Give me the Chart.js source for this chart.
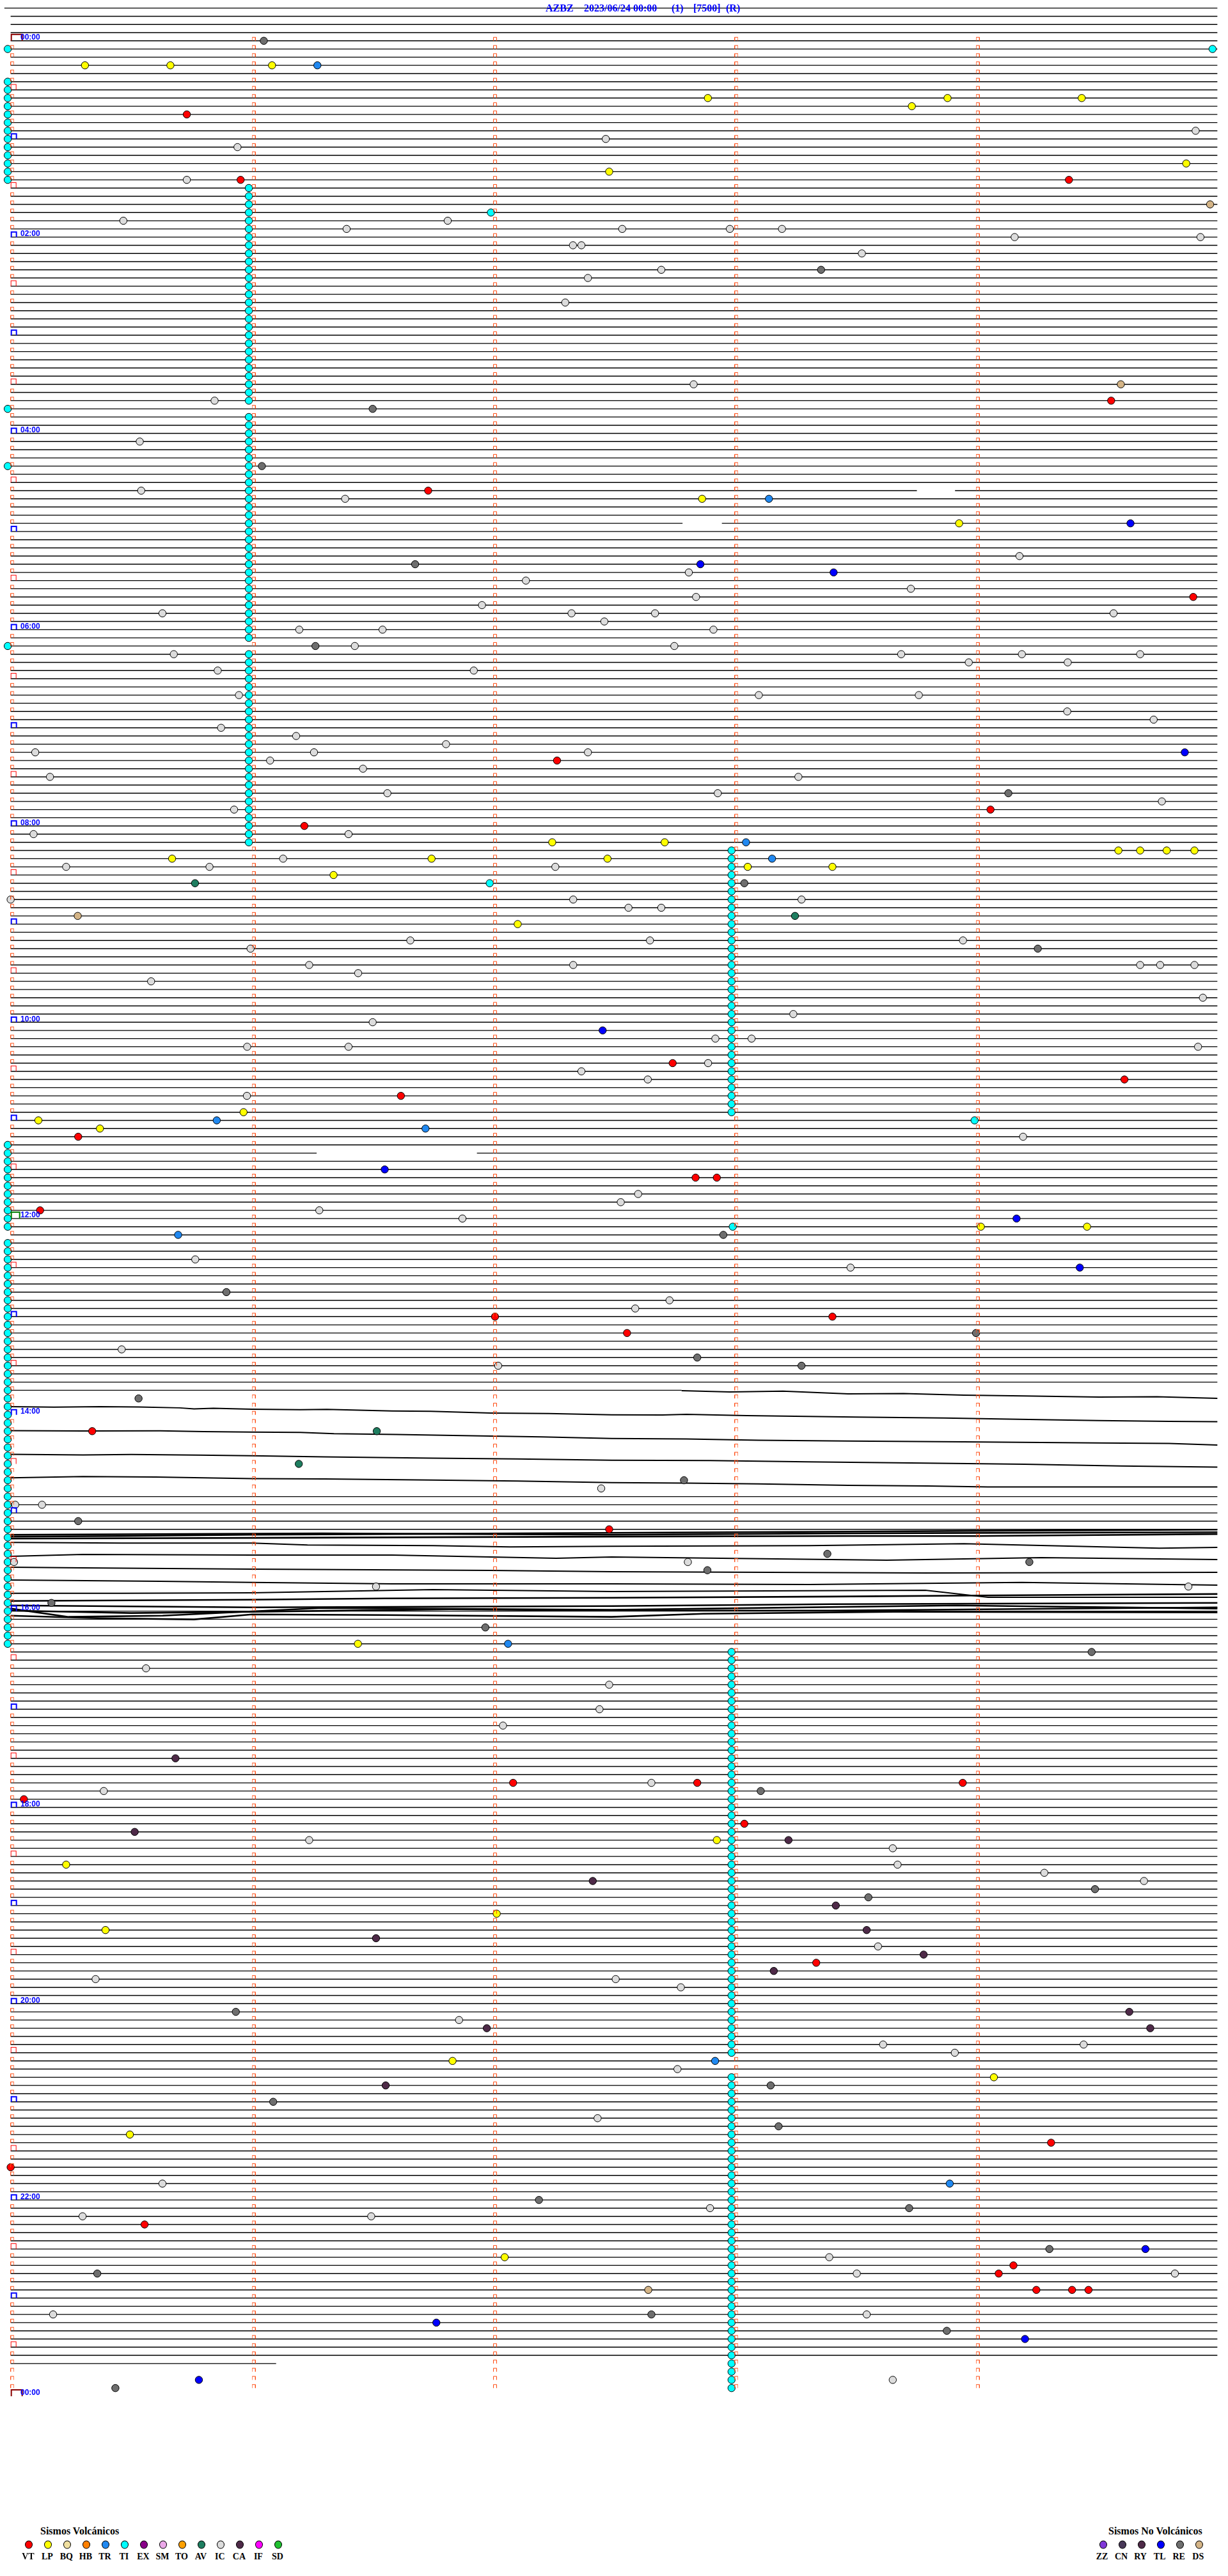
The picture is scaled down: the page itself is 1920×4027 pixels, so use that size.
<!DOCTYPE html>
<html><head><meta charset="utf-8">
<script src="https://cdn.jsdelivr.net/npm/chart.js@4/dist/chart.umd.min.js"></script>
<style>
html,body{margin:0;padding:0;background:#fff;}
body{width:1920px;height:4027px;position:relative;overflow:hidden;}
#c{position:absolute;left:0;top:0;}
.t{position:absolute;white-space:nowrap;}
.title{font:bold 16px "Liberation Serif",serif;color:#0000ff;line-height:16px;}
.hr{font:bold 12px "Liberation Sans",sans-serif;color:#0000ff;line-height:12px;}
.lt{font:bold 16px "Liberation Serif",serif;color:#000;line-height:16px;}
.ll{font:bold 14px "Liberation Serif",serif;color:#000;line-height:14px;transform:translateX(-50%);}
.sw{position:absolute;width:10px;height:11px;border:1px solid #000;border-radius:50%;transform:translate(-50%,-50%);}
</style></head><body>
<canvas id="c" width="1920" height="3770"></canvas>
<script>
// ---------------- DATA ----------------
const titleParts = ["AZBZ", "2023/06/24 00:00", "(1)", "[7500]", "(R)"];
const minutesPerLine = 5;
const lineCount = 288;              // 5-minute lines in the day
const headerLines = [-4, -3, -2, -1];
const minuteTicks = [0, 1, 2, 3, 4];
const hourLabels = ["00:00","02:00","04:00","06:00","08:00","10:00","12:00","14:00","16:00","18:00","20:00","22:00","00:00"];

// lines that carry no flat baseline (replaced by traces or no data)
const noFlatLines = [166,167,168,169,170,171,172,173,174,175,176,177,183,184,185,186,187,188,189,190,191,285,286,287];
// lines drawn only partly: [line, [start,end] minutes ...]
const partialLines = [
  [-4, [[-0.026, 5]]],
  [55, [[0, 3.755], [3.913, 5]]],
  [59, [[0, 2.784], [2.947, 5]]],
  [136, [[0, 1.268], [1.932, 5]]],
  [165, [[0, 2.78]]],
  [284, [[0, 1.1]]]
];

// seismic traces: [minute, line position]
const trace1347 = [[2.78,165.05],[2.98,165.2],[3.2,165.1],[3.47,165.44],[3.7,165.4],[3.95,165.59],[4.2,165.7],[4.51,165.83],[4.75,165.8],[5.0,165.98]];
const trace1355 = [[0,167.0],[0.18,167.07],[0.37,167.0],[0.53,167.05],[0.7,167.15],[0.76,167.28],[0.84,167.2],[1.0,167.31],[1.2,167.38],[1.31,167.34],[1.58,167.54],[1.74,167.57],[1.99,167.78],[2.23,167.84],[2.49,168.01],[2.7,168.02],[2.8,167.95],[3.05,168.1],[3.3,168.2],[3.5,168.27],[3.87,168.4],[4.1,168.5],[4.3,168.6],[4.51,168.71],[4.8,168.8],[5.0,168.84]];
const trace1410 = [[0,169.93],[0.3,169.98],[0.62,169.95],[0.8,170.05],[1.0,170.11],[1.2,170.15],[1.34,170.3],[1.6,170.4],[1.99,170.6],[2.2,170.7],[2.49,170.9],[2.8,170.95],[3.1,171.1],[3.47,171.2],[3.95,171.3],[4.51,171.45],[4.8,171.5],[5.0,171.7]];
const trace1425 = [[0,172.84],[0.3,172.9],[0.5,172.85],[0.78,172.92],[1.0,173.0],[1.3,173.15],[1.75,173.3],[2.1,173.4],[2.49,173.55],[2.9,173.6],[3.3,173.75],[3.79,173.9],[4.2,174.05],[4.6,174.25],[5.0,174.4]];
const trace1440 = [[0,175.7],[0.3,175.55],[0.6,175.6],[1.0,175.8],[1.3,175.85],[1.75,175.98],[2.1,176.1],[2.49,176.3],[2.8,176.35],[3.1,176.45],[3.47,176.62],[3.8,176.7],[4.05,176.82],[5.0,176.82]];
const trace1515a = [[0,182.89],[0.46,182.82],[1.0,182.66],[1.58,182.58],[2.49,182.43],[3.47,182.27],[4.0,182.19],[5.0,182.04]];
const trace1515b = [[0,183.13],[1.0,183.05],[2.49,182.89],[3.47,182.82],[4.0,182.82],[5.0,182.58]];
const trace1515c = [[0,182.66],[1.29,182.5],[2.49,182.66],[3.4,182.5],[5.0,182.35]];
const trace1520 = [[0,183.6],[0.46,183.68],[1.0,183.68],[1.23,183.91],[1.75,183.99],[2.07,184.15],[2.49,184.07],[3.31,183.99],[3.95,183.76],[4.76,184.3],[5.0,184.22]];
const trace1525 = [[0,185.31],[0.3,185.08],[1.0,185.15],[1.58,185.15],[2.26,185.54],[2.49,185.39],[3.63,185.78],[4.27,185.46],[5.0,185.7]];
const trace1535 = [[0,186.63],[0.3,186.71],[1.0,186.87],[1.99,187.02],[2.49,187.18],[3.79,187.33],[5.0,187.26]];
const trace1540 = [[0,188.19],[0.62,188.35],[1.0,188.5],[1.58,188.66],[2.49,188.66],[3.31,188.74],[4.19,188.5],[5.0,188.82]];
const trace1545 = [[0,189.83],[0.46,189.83],[1.0,189.76],[1.75,189.37],[2.49,189.6],[3.79,189.45],[4.05,190.31],[5.0,190.31]];
const trace1550 = [[0,190.76],[1.0,190.61],[1.55,190.45],[2.49,190.37],[3.4,190.22],[4.18,190.06],[5.0,189.91]];
const trace1555a = [[0,191.31],[1.0,191.54],[2.49,191.39],[3.4,191.15],[5.0,191.0]];
const trace1555b = [[0,191.93],[0.5,192.24],[1.0,192.08],[1.82,191.77],[2.49,191.93],[3.4,191.93],[5.0,191.54]];
const trace1555c = [[0,192.56],[0.37,192.87],[0.76,193.02],[1.0,192.4],[1.55,192.48],[2.49,192.71],[2.87,192.32],[3.66,192.08],[5.0,192.16]];
const trace1555d = [[0,191.69],[0.24,192.71],[0.63,192.56],[1.29,191.62],[2.49,191.85],[3.92,191.31],[5.0,191.69]];

// events: [line, minute within line]
const vtEvents = [[9,0.73],[17,0.953],[17,4.385],[44,4.56],[55,1.73],[68,4.90],[88,2.264],[94,4.06],[96,1.217],[125,2.743],[127,4.615],[129,1.617],[134,0.28],[139,2.838],[139,2.926],[143,0.122],[156,2.007],[156,3.405],[158,2.554],[170,0.338],[182,2.48],[213,2.082],[213,2.845],[213,3.945],[215,0.055],[218,3.04],[235,3.338],[257,4.311],[260,0.0],[267,0.555],[272,4.155],[273,4.094],[275,4.25],[275,4.398],[275,4.466]];
const lpEvents = [[3,0.308],[3,0.662],[3,1.083],[7,2.889],[7,3.882],[7,4.438],[8,3.734],[15,4.871],[16,2.48],[56,2.865],[59,3.93],[98,2.244],[98,2.71],[99,4.59],[99,4.68],[99,4.79],[99,4.905],[100,0.669],[100,1.744],[100,2.473],[101,3.054],[101,3.405],[102,1.338],[108,2.101],[131,0.965],[132,0.115],[133,0.37],[145,4.02],[145,4.46],[196,1.439],[220,2.926],[223,0.23],[229,2.014],[231,0.393],[247,1.831],[249,4.074],[256,0.494],[271,2.047]];
const trEvents = [[3,1.271],[56,3.142],[98,3.047],[100,3.155],[132,0.854],[133,1.719],[146,0.694],[196,2.061],[247,2.919],[262,3.891]];
const tiEvents = [[1,4.98],[21,1.99],[103,1.985],[132,3.994],[145,2.992]];
const avEvents = [[103,0.764],[107,3.25],[170,1.517],[174,1.194]];
const icEvents = [[11,4.91],[12,2.466],[13,0.94],[17,0.73],[22,0.467],[22,1.811],[23,1.392],[23,2.534],[23,2.98],[23,3.196],[24,4.16],[24,4.93],[25,2.33],[25,2.365],[26,3.527],[28,2.696],[29,2.392],[32,2.298],[42,2.83],[44,0.845],[49,0.535],[55,0.541],[56,1.386],[63,4.18],[65,2.81],[66,2.135],[67,3.73],[68,2.84],[69,1.953],[70,0.629],[70,2.324],[70,2.67],[70,4.57],[71,2.46],[72,1.196],[72,1.541],[72,2.912],[74,1.426],[74,2.75],[75,0.676],[75,3.69],[75,4.19],[75,4.68],[76,3.97],[76,4.38],[77,0.858],[77,1.919],[80,0.946],[80,3.10],[80,3.763],[82,4.378],[83,4.736],[84,0.872],[85,1.183],[86,1.804],[87,0.102],[87,1.257],[87,2.392],[88,1.075],[89,1.46],[90,0.163],[90,3.264],[92,1.561],[92,2.93],[93,4.77],[94,0.926],[97,0.095],[97,1.40],[100,1.129],[101,0.23],[101,0.824],[101,2.257],[105,0.0],[105,2.331],[105,3.277],[106,2.56],[106,2.696],[110,1.656],[110,2.649],[110,3.946],[111,0.994],[113,1.237],[113,2.331],[113,4.68],[113,4.763],[113,4.905],[114,1.44],[115,0.582],[117,4.94],[119,3.243],[120,1.50],[122,2.92],[122,3.07],[123,0.98],[123,1.40],[123,4.92],[125,2.89],[126,2.365],[127,2.64],[129,0.979],[134,4.195],[141,2.60],[142,2.528],[143,1.279],[144,1.872],[149,0.765],[150,3.48],[154,2.73],[155,2.588],[160,0.46],[162,2.02],[177,2.447],[179,0.019],[179,0.13],[186,0.014],[186,2.806],[189,1.514],[189,4.88],[199,0.561],[201,2.48],[204,2.44],[206,2.04],[213,2.655],[214,0.386],[220,1.237],[221,3.655],[223,3.675],[224,4.283],[225,4.696],[233,3.594],[237,0.352],[237,2.507],[238,2.777],[242,1.858],[245,3.615],[245,4.446],[246,3.912],[248,2.763],[254,2.432],[262,0.629],[265,2.898],[266,0.298],[266,1.494],[271,3.392],[273,3.506],[273,4.824],[278,0.176],[278,3.547],[286,3.655]];
const caEvents = [[210,0.683],[219,0.514],[220,3.223],[225,2.412],[228,3.419],[231,3.547],[232,1.514],[234,3.783],[236,3.162],[241,4.635],[243,1.973],[243,4.722],[250,1.554]];
const tlEvents = [[59,4.64],[64,2.858],[65,3.41],[87,4.865],[121,2.453],[138,1.55],[144,4.168],[150,4.43],[270,4.702],[279,1.764],[281,4.203],[286,0.78]];
const reEvents = [[0,1.049],[28,3.358],[45,1.50],[52,1.041],[64,1.676],[74,1.263],[92,4.134],[103,3.04],[111,4.256],[146,2.953],[153,0.894],[158,4.0],[161,2.845],[162,3.277],[166,0.53],[176,2.79],[181,0.28],[185,3.384],[186,4.221],[187,2.887],[191,0.169],[194,1.967],[197,4.479],[214,3.108],[226,4.493],[227,3.554],[241,0.933],[250,3.149],[252,1.088],[255,3.182],[264,2.189],[265,3.723],[270,4.304],[273,0.359],[278,2.655],[280,3.879],[287,0.434]];
const dsEvents = [[20,4.97],[42,4.60],[107,0.278],[275,2.642]];

// continuous TI (tremor) runs: [firstLine, lastLine] at a minute position
const tiRunsLeft = [[1,1],[5,17],[45,45],[52,52],[74,74],[135,145],[147,196]];
const tiRunsLeftMinute = -0.012;
const tiRunsMid = [[18,44],[46,73],[75,98]];
const tiRunsMidMinute = 0.987;
const tiRunsRight = [[99,131],[197,246],[249,287]];
const tiRunsRightMinute = 2.987;

const volcTypes = ["VT","LP","BQ","HB","TR","TI","EX","SM","TO","AV","IC","CA","IF","SD"];
const volcColors = ["#ff0000","#ffff00","#f0e0a0","#ff8000","#2088f0","#00ffff","#880088","#eaa8e8","#ffa000","#1e7e60","#dcdcdc","#4e2a48","#ff00ff","#20c030"];
const nonVolcTypes = ["ZZ","CN","RY","TL","RE","DS"];
const nonVolcColors = ["#8038d8","#483858","#4e2a48","#0000ff","#6e6e6e","#d4b486"];

// ---------------- LAYOUT ----------------
const CANVAS_H = 3770, TOP_PX = 57.3, LINE_PX = 12.831;
const X_MIN = -10/380, X_MAX = 5 + 10/380;
const Y_MIN = -TOP_PX/LINE_PX, Y_MAX = (CANVAS_H - TOP_PX)/LINE_PX;

function mkImg(w, h, draw){const c=document.createElement('canvas');c.width=w;c.height=h;const g=c.getContext('2d');draw(g);return c;}
const tickImg = mkImg(6,14,g=>{g.strokeStyle='#ff4a10';g.lineWidth=1;g.beginPath();g.moveTo(0.5,7);g.lineTo(0.5,1.5);g.lineTo(5.5,1.5);g.lineTo(5.5,7);g.stroke();});
function bracket(w,h,color,top,side){return mkImg(2*w+2,2*h+2,g=>{const x0=w+1,y0=h+1;g.fillStyle=color;g.fillRect(x0,y0-h,w,top);g.fillRect(x0,y0-h,side,h);g.fillRect(x0+w-side,y0-h,side,h);});}
const dayImg = bracket(19,11,'#8b0000',2,2);
const hourImg = bracket(10,9,'#0000ff',2,2);
const noonImg = bracket(15,11,'#008000',2,2);
const halfImg = bracket(9,9,'#ff0000',1,1);

function P(list){return list.map(([k,m])=>({x:m,y:k}));}
const datasets = [];

const tickPts=[], dayPts=[], hourPts=[], noonPts=[], halfPts=[];
for(let k=0;k<lineCount;k++){
  for(const m of minuteTicks){
    if(m===0 && k%6===0) continue;
    tickPts.push({x:m+0.007,y:k});
  }
  if(k%12===0){ if(k===0) dayPts.push({x:0,y:k}); else if(k===144) noonPts.push({x:0,y:k}); else hourPts.push({x:0,y:k}); }
  else if(k%6===0) halfPts.push({x:0,y:k});
}
dayPts.push({x:0,y:lineCount});
function imgDs(data,img){return {data,showLine:false,pointStyle:img,pointRadius:4,clip:false};}
datasets.push(imgDs(tickPts,tickImg),imgDs(dayPts,dayImg),imgDs(hourPts,hourImg),imgDs(noonPts,noonImg),imgDs(halfPts,halfImg));

function evDs(list,color){return {data:P(list),showLine:false,pointStyle:'circle',pointRadius:5.7,pointBackgroundColor:color,pointBorderColor:'#000',pointBorderWidth:1,clip:false};}
const vc = t=>volcColors[volcTypes.indexOf(t)], nc = t=>nonVolcColors[nonVolcTypes.indexOf(t)];
datasets.push(evDs(vtEvents,vc("VT")),evDs(lpEvents,vc("LP")),evDs(trEvents,vc("TR")),evDs(avEvents,vc("AV")),
  evDs(caEvents,vc("CA")),evDs(tlEvents,nc("TL")),evDs(reEvents,nc("RE")),evDs(dsEvents,nc("DS")),evDs(icEvents,vc("IC")),evDs(tiEvents,vc("TI")));
function runs(list,m){const out=[];for(const [a,b] of list)for(let k=a;k<=b;k++)out.push([k,m]);return out;}
datasets.push(evDs(runs(tiRunsLeft,tiRunsLeftMinute),vc("TI")),evDs(runs(tiRunsMid,tiRunsMidMinute),vc("TI")),evDs(runs(tiRunsRight,tiRunsRightMinute),vc("TI")));

const singleTraces=[trace1347,trace1355,trace1410,trace1425,trace1440,trace1520,trace1525,trace1535,trace1540,trace1545];
const bandTraces=[trace1515a,trace1515b,trace1515c,trace1550,trace1555a,trace1555b,trace1555c,trace1555d];
for(const tr of singleTraces) datasets.push({data:tr.map(([m,v])=>({x:m,y:v})),borderColor:'#000',borderWidth:2.0,pointRadius:0,tension:0,clip:false});
for(const tr of bandTraces) datasets.push({data:tr.map(([m,v])=>({x:m,y:v})),borderColor:'#000',borderWidth:2.6,pointRadius:0,tension:0,clip:false});

const gridPts=[];
const partialMap=new Map(partialLines);
for(let k=headerLines[0];k<lineCount;k++){
  if(noFlatLines.includes(k)) continue;
  const segs = partialMap.get(k) || [[0,minutesPerLine]];
  for(const [a,b] of segs){gridPts.push({x:a,y:k},{x:b,y:k},{x:b,y:null});}
}
datasets.push({data:gridPts,borderColor:'#000',borderWidth:1.4,pointRadius:0,spanGaps:false,clip:false});

const chart = new Chart(document.getElementById('c'),{
  type:'line',
  data:{datasets},
  options:{responsive:false,animation:false,devicePixelRatio:1,events:[],
    plugins:{legend:{display:false},tooltip:{enabled:false}},
    layout:{padding:0},
    scales:{x:{type:'linear',min:X_MIN,max:X_MAX,display:false},
            y:{type:'linear',min:Y_MIN,max:Y_MAX,reverse:true,display:false}}}
});

// ---------------- TEXT OVERLAYS ----------------
function addText(txt,cls,left,top){const d=document.createElement('div');d.className='t '+cls;d.textContent=txt;d.style.left=left+'px';d.style.top=top+'px';document.body.appendChild(d);return d;}
const titleLeft=[853,913,1050,1084,1135];
titleParts.forEach((t,i)=>addText(t,'title',titleLeft[i],5));
const ys=chart.scales.y;
hourLabels.forEach((t,i)=>addText(t,'hr',32,ys.getPixelForValue(i*24)-11.5));
addText("Sismos Volcánicos",'lt',63,3948.6);
addText("Sismos No Volcánicos",'lt',1733,3948.6);
function swatch(x,y,color){const d=document.createElement('div');d.className='sw';d.style.left=x+'px';d.style.top=y+'px';d.style.background=color;document.body.appendChild(d);}
volcTypes.forEach((t,i)=>{const x=45.4+30.0*i;swatch(x,3977.7,volcColors[i]);addText(t,'ll',x-1.5,3990);});
nonVolcTypes.forEach((t,i)=>{const x=1725+30.05*i;swatch(x,3977.7,nonVolcColors[i]);addText(t,'ll',x-2,3990);});
</script></body></html>
